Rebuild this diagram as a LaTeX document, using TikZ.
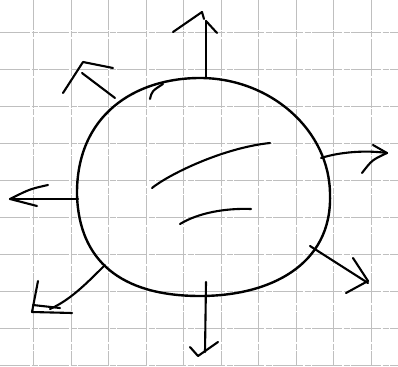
\documentclass[tikz,border=0pt]{standalone}
\begin{document}
\begin{tikzpicture}[x=1pt,y=-1pt,
  gridline/.style={draw=gray!50,line width=0.9pt,dash pattern=on 30pt off 1.5pt on 6pt off 1.5pt},
  pen/.style={draw=black,line width=2.4pt,line cap=round,line join=round},
  penthin/.style={draw=black,line width=2.1pt,line cap=round,line join=round}]
\useasboundingbox (0,0) rectangle (398,366);
\fill[white] (0,0) rectangle (398,366);
% grid
\foreach \i in {0,...,9} {
  \draw[gridline] ({33.5+37.5*\i},0) -- ({33.5+37.5*\i},366);
  \draw[gridline] (0,{32+37.1*\i}) -- (398,{32+37.1*\i});
}
% blob
\draw[pen] (77,195) .. controls (76,115) and (135,78) .. (200,78)
  .. controls (270,78) and (330,130) .. (330,195)
  .. controls (332,265) and (270,296) .. (200,296)
  .. controls (120,296) and (79,260) .. cycle;
\draw[penthin] (150,99) .. controls (152,91) .. (163,84);
% inner strokes
\draw[penthin] (152,188) .. controls (168,175) and (222,148) .. (270,143);
\draw[penthin] (180,224) .. controls (198,213) and (225,208) .. (251,209);
% top arrow
\draw[penthin] (206,78) -- (206,21);
\draw[penthin] (173,32) -- (202,12) -- (204,19);
\draw[penthin] (206,21) -- (217,33);
% upper-left arrow
\draw[penthin] (63,93) -- (83,62) -- (113,68);
\draw[penthin] (82,73) -- (115,98);
% left arrow
\draw[penthin] (78,199) -- (10,199);
\draw[penthin] (48,185) .. controls (30,189) .. (10,199) -- (37,206);
% lower-left arrow
\draw[penthin] (105,265) .. controls (85,285) and (70,300) .. (50,309);
\draw[penthin] (38,281) -- (32,312) -- (72,313);
\draw[penthin] (33,305) -- (60,308);
% bottom arrow
\draw[penthin] (206,282) -- (205,352);
\draw[penthin] (190,347) -- (198,356) -- (218,342);
% lower-right arrow
\draw[penthin] (310,246) -- (368,283);
\draw[penthin] (353,258) -- (368,281) -- (346,293);
% right arrow
\draw[penthin] (321,158) .. controls (340,152) and (365,150) .. (387,153);
\draw[penthin] (373,145) -- (387,153) .. controls (372,160) .. (362,173);
\end{tikzpicture}
\end{document}
